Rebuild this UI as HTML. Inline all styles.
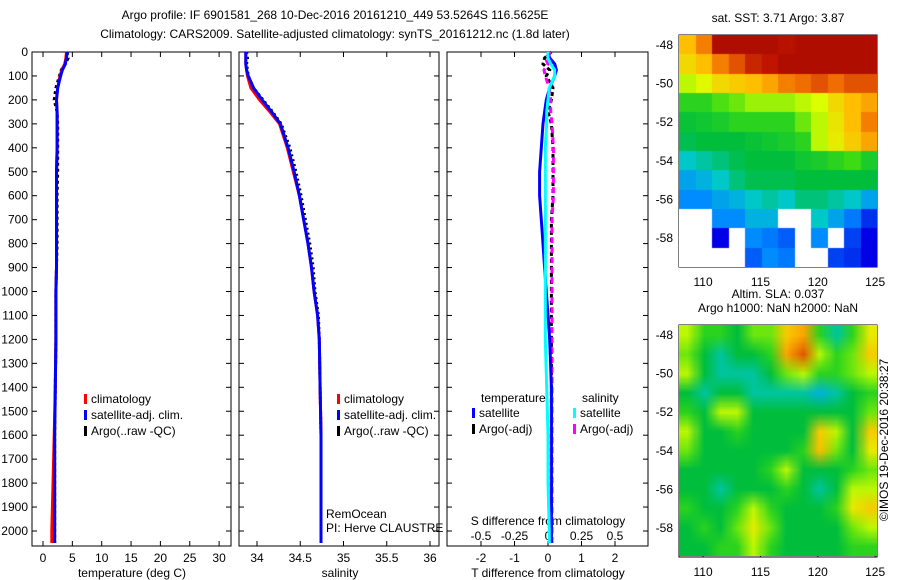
<!DOCTYPE html>
<html><head><meta charset="utf-8"><style>
html,body{margin:0;padding:0;background:#fff;}
svg text{font-family:"Liberation Sans",sans-serif;font-size:12px;fill:#000;}
#wrap{position:relative;width:900px;height:580px;}
canvas{position:absolute;}
</style></head><body>
<div id="wrap">
<svg id="svg" width="900" height="580" style="position:absolute;left:0;top:0"></svg>
<canvas id="sst" width="198" height="232" style="left:679px;top:35px"></canvas>
<canvas id="sla" width="198" height="231" style="left:679px;top:325px"></canvas>
</div>
<script>
// ---- data ----
const depths = [0,25,50,75,100,150,200,250,300,400,500,600,700,800,900,1000,1100,1200,1400,1600,1800,2000,2050];
const tempClim = [4.0,3.9,3.7,3.2,2.9,2.5,2.3,2.4,2.4,2.4,2.3,2.3,2.3,2.3,2.3,2.2,2.2,2.2,2.1,1.9,1.7,1.5,1.5];
const tempSat = [4.1,4.0,3.8,3.3,3.0,2.5,2.3,2.4,2.4,2.4,2.3,2.3,2.3,2.3,2.3,2.2,2.2,2.2,2.1,2.0,2.0,2.0,2.0];
const tempArgo = [4.1,4.3,3.8,3.1,2.8,2.2,1.9,2.4,2.5,2.5,2.5,2.4,2.4,2.4,2.3,2.2,2.2,2.2,2.1,2.0,2.0,2.0,2.0];
const salClim = [33.87,33.87,33.87,33.88,33.89,33.93,34.03,34.15,34.26,34.35,34.42,34.49,34.54,34.59,34.63,34.66,34.70,34.72,34.73,34.74,34.74,34.74,34.74];
const salSat = [33.87,33.87,33.87,33.88,33.90,33.96,34.06,34.17,34.27,34.36,34.43,34.49,34.54,34.59,34.63,34.66,34.70,34.72,34.73,34.74,34.74,34.74,34.74];
const salArgo = [33.88,33.89,33.88,33.89,33.90,33.96,34.07,34.18,34.28,34.38,34.45,34.51,34.56,34.61,34.65,34.67,34.71,34.72,34.73,34.74,34.74,34.74,34.74];
const tdiffSat = [0.0,0.05,0.2,0.25,0.2,0.05,-0.05,-0.1,-0.15,-0.2,-0.25,-0.25,-0.2,-0.15,-0.1,-0.05,0.0,0.05,0.1,0.1,0.1,0.1,0.1];
const sdiffSat = [0.0,0.0,0.02,0.05,0.05,0.01,0.0,-0.01,-0.01,-0.02,-0.02,-0.02,-0.02,-0.02,-0.02,-0.02,-0.02,-0.02,-0.01,0.0,0.0,0.01,0.01];
const tdiffArgo = [0.1,-0.1,-0.15,0.05,-0.05,0.15,0.1,0.0,0.1,0.15,0.15,0.15,0.1,0.1,0.1,0.1,0.1,0.1,0.1,0.1,0.1,0.1,0.1];
const sdiffArgo = [0.02,-0.02,0.0,-0.03,-0.02,0.01,0.02,0.02,0.03,0.04,0.04,0.04,0.03,0.03,0.03,0.03,0.03,0.03,0.03,0.03,0.03,0.03,0.03];
const tempTicks = [0,5,10,15,20,25,30];
const salTicks = ["34","34.5","35","35.5","36"];
const tdTicks = [-2,-1,0,1,2];
const sdTicks = ["-0.5","-0.25","0","0.25","0.5"];
const depthTicks = [0,100,200,300,400,500,600,700,800,900,1000,1100,1200,1300,1400,1500,1600,1700,1800,1900,2000];
const lonTicks = [110,115,120,125];
const latTicks = [-48,-50,-52,-54,-56,-58];
// SST grid (rows north->south, cols west->east), -1 = no data
const sstGrid = [
[0.72,0.8,0.95,0.95,0.95,0.95,0.93,0.95,0.95,0.95,0.95,0.95],
[0.68,0.72,0.8,0.85,0.9,0.92,0.95,0.95,0.95,0.95,0.95,0.95],
[0.6,0.63,0.68,0.7,0.72,0.75,0.8,0.82,0.85,0.82,0.85,0.85],
[0.5,0.5,0.53,0.55,0.58,0.58,0.58,0.6,0.62,0.68,0.72,0.75],
[0.46,0.47,0.48,0.5,0.5,0.5,0.5,0.55,0.6,0.66,0.72,0.8],
[0.44,0.45,0.45,0.45,0.46,0.47,0.48,0.5,0.6,0.65,0.7,0.75],
[0.38,0.4,0.42,0.44,0.45,0.45,0.45,0.47,0.48,0.5,0.52,0.48],
[0.33,0.35,0.38,0.42,0.44,0.44,0.44,0.45,0.45,0.45,0.45,0.45],
[0.3,0.3,0.33,0.35,0.38,0.4,0.38,0.42,0.42,0.4,0.38,0.33],
[-1,-1,0.3,0.3,0.35,0.35,-1,-1,0.38,0.33,0.28,0.2],
[-1,-1,0.15,-1,0.3,0.28,0.25,-1,0.3,-1,0.22,0.15],
[-1,-1,-1,-1,0.25,0.3,0.28,-1,-1,0.22,0.2,0.15]];
const slaGrid = [
[0.6,0.5,0.5,0.45,0.55,0.55,0.7,0.75,0.5,0.4,0.5,0.65],
[0.55,0.45,0.4,0.45,0.45,0.5,0.75,0.85,0.6,0.5,0.55,0.7],
[0.6,0.45,0.4,0.4,0.4,0.45,0.55,0.6,0.5,0.5,0.55,0.6],
[0.45,0.4,0.45,0.45,0.4,0.4,0.4,0.4,0.35,0.4,0.45,0.5],
[0.5,0.45,0.6,0.6,0.45,0.45,0.45,0.45,0.45,0.45,0.45,0.55],
[0.6,0.45,0.45,0.5,0.45,0.45,0.45,0.45,0.7,0.6,0.45,0.7],
[0.55,0.45,0.45,0.45,0.45,0.45,0.45,0.5,0.72,0.55,0.45,0.65],
[0.45,0.45,0.45,0.45,0.45,0.5,0.6,0.45,0.45,0.45,0.5,0.55],
[0.45,0.45,0.4,0.45,0.45,0.45,0.5,0.45,0.4,0.45,0.6,0.6],
[0.5,0.45,0.45,0.5,0.6,0.5,0.45,0.45,0.45,0.5,0.65,0.7],
[0.45,0.5,0.45,0.55,0.65,0.55,0.45,0.45,0.45,0.45,0.55,0.6],
[0.45,0.45,0.5,0.5,0.6,0.5,0.45,0.45,0.45,0.45,0.5,0.5]];

// ---- axes ----
const NS='http://www.w3.org/2000/svg';
const svg=document.getElementById('svg');
function el(tag,attrs,parent){const e=document.createElementNS(NS,tag);for(const k in attrs)e.setAttribute(k,attrs[k]);(parent||svg).appendChild(e);return e;}
function txt(x,y,s,anchor,parent,name){const t=el('text',{x:x,y:y,'text-anchor':anchor||'start'},parent);t.textContent=s;


return t;}
const yD=d=>52+d*0.2395;
const xT=v=>43+v*5.87;
const xS=v=>257+(v-34)*86.5;
const xTD=v=>548+v*33.5;
const xSD=v=>548+v*134;

txt(335,19,'Argo profile: IF 6901581_268 10-Dec-2016 20161210_449 53.5264S 116.5625E','middle',null,'title-line-1');
txt(335,38,'Climatology: CARS2009. Satellite-adjusted climatology: synTS_20161212.nc (1.8d later)','middle',null,'title-line-2');

function panel(x0,x1,name){
  const g=el('g',{});
  
  
  el('rect',{x:x0,y:52,width:x1-x0,height:494,fill:'none',stroke:'#000','stroke-width':1},g);
  return g;
}
function depthTickMarks(g,x0,x1,labels){
  depthTicks.forEach(d=>{const y=yD(d);
    el('line',{x1:x0,y1:y,x2:x0+5,y2:y,stroke:'#000'},g);
    el('line',{x1:x1,y1:y,x2:x1-5,y2:y,stroke:'#000'},g);
    if(labels)txt(x0-4,y+4,String(d),'end',g,'depth-tick-label');});
}
function polyline(g,xs,ys,fn,color,w,dash,name){
  const pts=xs.map((v,i)=>fn(v).toFixed(1)+','+yD(ys[i]).toFixed(1)).join(' ');
  const p=el('polyline',{points:pts,fill:'none',stroke:color,'stroke-width':w},g);
  if(dash)p.setAttribute('stroke-dasharray',dash);
  
  
}
function legend(g,x,y,items){
  items.forEach((it,i)=>{el('rect',{x:x,y:y+i*16-9,width:3,height:10,fill:it[0]},g);txt(x+7,y+i*16,it[1],'start',g,'legend-entry');});
}
// Panel 1
const g1=panel(32,231,'temperature-panel');
depthTickMarks(g1,32,231,true);
tempTicks.forEach(v=>{const x=xT(v);el('line',{x1:x,y1:546,x2:x,y2:541,stroke:'#000'},g1);el('line',{x1:x,y1:52,x2:x,y2:57,stroke:'#000'},g1);txt(x,562,String(v),'middle',g1,'temp-tick-label');});
txt(132,577,'temperature (deg C)','middle',g1,'x-axis-title-temp');
polyline(g1,tempArgo,depths,xT,'#000',3,'3,3','argo-temp-line');
polyline(g1,tempClim,depths,xT,'#f00',3,null,'clim-temp-line');
polyline(g1,tempSat,depths,xT,'#00f',3,null,'sat-temp-line');
legend(g1,84,403,[['#f00','climatology'],['#00f','satellite-adj. clim.'],['#000','Argo(..raw -QC)']]);
// Panel 2
const g2=panel(239,439,'salinity-panel');
depthTickMarks(g2,239,439,false);
salTicks.forEach(v=>{const x=xS(+v);el('line',{x1:x,y1:546,x2:x,y2:541,stroke:'#000'},g2);el('line',{x1:x,y1:52,x2:x,y2:57,stroke:'#000'},g2);txt(x,562,v,'middle',g2,'sal-tick-label');});
txt(340,577,'salinity','middle',g2,'x-axis-title-sal');
polyline(g2,salArgo,depths,xS,'#000',3,'2,3','argo-sal-line');
polyline(g2,salClim,depths,xS,'#f00',3,null,'clim-sal-line');
polyline(g2,salSat,depths,xS,'#00f',3,null,'sat-sal-line');
legend(g2,337,403,[['#f00','climatology'],['#00f','satellite-adj. clim.'],['#000','Argo(..raw -QC)']]);
txt(326,518,'RemOcean','start',g2,'project-label');
txt(326,532,'PI: Herve CLAUSTRE','start',g2,'pi-label');
// Panel 3
const g3=panel(447,648,'difference-panel');
depthTickMarks(g3,447,648,false);
tdTicks.forEach(v=>{const x=xTD(v);el('line',{x1:x,y1:546,x2:x,y2:541,stroke:'#000'},g3);el('line',{x1:x,y1:52,x2:x,y2:57,stroke:'#000'},g3);txt(x,562,String(v),'middle',g3,'tdiff-tick-label');});
sdTicks.forEach(v=>{txt(xSD(+v),540,v,'middle',g3,'sdiff-tick-label');});
txt(548,577,'T difference from climatology','middle',g3,'x-axis-title-tdiff');
txt(548,525,'S difference from climatology','middle',g3,'sdiff-title');
polyline(g3,tdiffArgo,depths,xTD,'#000',3,'4,3','argo-tdiff-line');
polyline(g3,sdiffArgo,depths,xSD,'#f0f',3,'6,4','argo-sdiff-line');
polyline(g3,tdiffSat,depths,xTD,'#00f',3,null,'sat-tdiff-line');
polyline(g3,sdiffSat,depths,xSD,'#0ff',3,null,'sat-sdiff-line');
txt(481,402,'temperature','start',g3,'legend-temp-header');
txt(582,402,'salinity','start',g3,'legend-sal-header');
legend(g3,472,417,[['#00f','satellite'],['#000','Argo(-adj)']]);
legend(g3,573,417,[['#0ff','satellite'],['#f0f','Argo(-adj)']]);

// Map axes
const xL=v=>679+(v-107.9)*11.47;
function mapAxes(top,name,titles){
  const g=el('g',{});
  
  
  const yL=v=>top+10+(-48-v)*19.3;
  el('rect',{x:679,y:top,width:198,height:232,fill:'none',stroke:'#000'},g);
  lonTicks.forEach(v=>{const x=xL(v);el('line',{x1:x,y1:top+232,x2:x,y2:top+228,stroke:'#000'},g);el('line',{x1:x,y1:top,x2:x,y2:top+4,stroke:'#000'},g);txt(x,top+251,String(v),'middle',g,'lon-tick-label');});
  latTicks.forEach(v=>{const y=yL(v);el('line',{x1:877,y1:y,x2:873,y2:y,stroke:'#000'},g);txt(673,y+4,String(v),'end',g,'lat-tick-label');});
  titles.forEach((t,i)=>txt(778,top-13+i*14-(titles.length-1)*14,t,'middle',g,'map-title'));
}
mapAxes(35,'sst-map-axes',['sat. SST: 3.71  Argo: 3.87']);
mapAxes(325,'sla-map-axes',['Altim. SLA: 0.037','Argo h1000: NaN h2000: NaN']);
const stamp=txt(0,0,'©IMOS 19-Dec-2016 20:38:27','middle',null,'timestamp');
stamp.setAttribute('transform','translate(888,440) rotate(-90)');

// colormap (jet-like)
const stops=[[0,[0,0,130]],[0.15,[0,0,230]],[0.3,[0,140,255]],[0.38,[0,200,200]],[0.45,[0,190,60]],[0.52,[60,220,20]],[0.62,[220,255,0]],[0.72,[255,190,0]],[0.82,[240,110,0]],[0.92,[190,20,0]],[1,[150,0,0]]];
function cmap(v){for(let i=1;i<stops.length;i++){if(v<=stops[i][0]){const a=stops[i-1],b=stops[i];const t=(v-a[0])/(b[0]-a[0]);return a[1].map((c,k)=>Math.round(c+(b[1][k]-c)*t));}}return stops[stops.length-1][1];}
function drawGrid(id,grid,smooth){
  const c=document.getElementById(id),ctx=c.getContext('2d');
  const rows=grid.length,cols=grid[0].length;
  const off=document.createElement('canvas');off.width=cols;off.height=rows;
  const o=off.getContext('2d');const img=o.createImageData(cols,rows);
  grid.forEach((row,r)=>row.forEach((v,k)=>{const i=(r*cols+k)*4;
    if(v<0){img.data[i]=255;img.data[i+1]=255;img.data[i+2]=255;}else{const col=cmap(v);img.data[i]=col[0];img.data[i+1]=col[1];img.data[i+2]=col[2];}
    img.data[i+3]=255;}));
  o.putImageData(img,0,0);
  ctx.imageSmoothingEnabled=smooth;
  ctx.drawImage(off,0,0,c.width,c.height);
}
drawGrid('sst',sstGrid,false);
drawGrid('sla',slaGrid,true);
</script>
</body></html>
